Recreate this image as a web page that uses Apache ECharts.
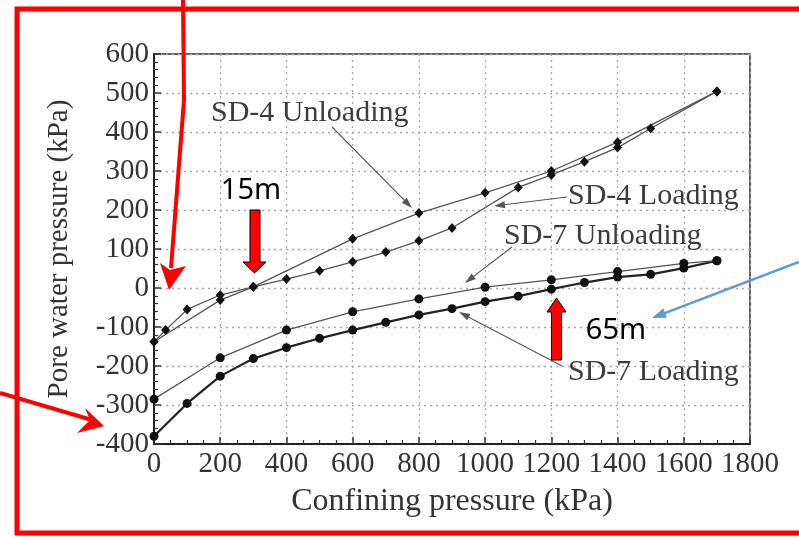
<!DOCTYPE html>
<html>
<head>
<meta charset="utf-8">
<script src="https://cdn.jsdelivr.net/npm/echarts@6/dist/echarts.min.js"></script>
<style>
html,body{margin:0;padding:0;background:#fff;}
#chart{width:799px;height:539px;}
</style>
</head>
<body>
<div id="chart"></div>
<script>
// ---- data ----
const xTicks = [0, 200, 400, 600, 800, 1000, 1200, 1400, 1600, 1800];
const yTicks = [-400, -300, -200, -100, 0, 100, 200, 300, 400, 500, 600];

const sd4LoadX   = [0, 35, 100, 200, 300, 400, 500, 600, 700, 800, 900, 1100, 1200, 1300, 1400, 1500, 1700];
const sd4LoadY   = [-138, -108, -55, -18, 3, 23, 44, 67, 92, 121, 154, 258, 290, 324, 360, 409, 504];
const sd4UnloadX = [1700, 1400, 1200, 1000, 800, 600, 300, 200, 0];
const sd4UnloadY = [504, 374, 300, 244, 192, 126, 3, -31, -138];

const sd7LoadX   = [0, 100, 200, 300, 400, 500, 600, 700, 800, 900, 1000, 1100, 1200, 1300, 1400, 1500, 1600, 1700];
const sd7LoadY   = [-380, -296, -226, -181, -153, -129, -108, -88, -69, -53, -35, -21, -3, 14, 28, 35, 51, 70];
const sd7UnloadX = [1700, 1600, 1400, 1200, 1000, 800, 600, 400, 200, 0];
const sd7UnloadY = [70, 63, 42, 21, 2, -28, -61, -108, -179, -285];

const zip = (xs, ys) => xs.map((x, i) => [x, ys[i]]);

// ---- helpers for annotation arrows ----
function arrow(x1, y1, x2, y2, color, width, headLen, headW, z) {
  const dx = x2 - x1, dy = y2 - y1, L = Math.hypot(dx, dy);
  const ux = dx / L, uy = dy / L, px = -uy, py = ux;
  const bx = x2 - ux * headLen, by = y2 - uy * headLen;
  return [
    {type: 'line', z: z, shape: {x1: x1, y1: y1, x2: bx + ux * 1, y2: by + uy * 1},
     style: {stroke: color, lineWidth: width}},
    {type: 'polygon', z: z, shape: {points: [[x2, y2], [bx + px * headW, by + py * headW], [bx - px * headW, by - py * headW]]},
     style: {fill: color}}
  ];
}

const serif = "Liberation Serif";
const serifFont = "'Liberation Serif', 'Times New Roman', serif";
const annColor = '#3c3c3c';
const annFont = 30;

const graphics = [];
// leader arrows
graphics.push(...arrow(332, 127, 412, 208, '#555', 1.1, 11, 3.5, 10));
graphics.push(...arrow(567, 197, 494, 206, '#555', 1.1, 11, 3.5, 10));
graphics.push(...arrow(512, 247, 465, 283, '#555', 1.1, 11, 3.5, 10));
graphics.push(...arrow(562, 366, 459, 312, '#555', 1.1, 11, 3.5, 10));
// annotation texts
[['SD-4 Unloading', 211, 113], ['SD-4 Loading', 568, 196], ['SD-7 Unloading', 504, 236], ['SD-7 Loading', 568, 372]]
  .forEach(t => graphics.push({type: 'text', z: 10, x: t[1], y: t[2],
    style: {text: t[0], font: annFont + 'px ' + serifFont, fill: annColor, textVerticalAlign: 'middle', textAlign: 'left'}}));

// red overlay frame
const red = '#ff0000';
graphics.push({type: 'polyline', z: 100, shape: {points: [[799, 9], [17, 9], [17, 533], [799, 533]]},
  style: {stroke: red, lineWidth: 5, fill: null}});
// red line arrow from top
graphics.push({type: 'polyline', z: 100, shape: {points: [[183, 0], [184, 100], [171, 268]]},
  style: {stroke: red, lineWidth: 4, fill: null}});
graphics.push({type: 'polygon', z: 100, shape: {points: [[169, 290], [160, 263], [170, 270], [186, 266]]},
  style: {fill: red}});
// red line arrow from left
graphics.push({type: 'line', z: 100, shape: {x1: 0, y1: 393, x2: 92, y2: 420}, style: {stroke: red, lineWidth: 4}});
graphics.push({type: 'polygon', z: 100, shape: {points: [[104, 426], [85, 408], [90, 420], [77, 433]]},
  style: {fill: red}});
// blue arrow
graphics.push(...arrow(799, 262, 652, 318, '#5b9bd5', 2.5, 14, 5, 100));
// block arrows
graphics.push({type: 'polygon', z: 100, shape: {points: [[250, 210], [260, 210], [260, 262], [266, 262], [254.5, 273], [243, 262], [250, 262]]},
  style: {fill: red, stroke: '#000', lineWidth: 1}});
graphics.push({type: 'polygon', z: 100, shape: {points: [[556.5, 298], [566, 312], [561.5, 312], [561.5, 360], [551.5, 360], [551.5, 312], [547, 312]]},
  style: {fill: red, stroke: '#000', lineWidth: 1}});
// 15m / 65m labels
graphics.push({type: 'text', z: 100, x: 251, y: 191, style: {text: '15m', font: "29px 'Noto Sans', sans-serif", fill: '#000', textAlign: 'center', textVerticalAlign: 'middle'}});
graphics.push({type: 'text', z: 100, x: 616, y: 331, style: {text: '65m', font: "29px 'Noto Sans', sans-serif", fill: '#000', textAlign: 'center', textVerticalAlign: 'middle'}});

const chart = echarts.init(document.getElementById('chart'), null, {renderer: 'canvas'});

const labelStyle = {
  fontFamily: serif, fontSize: 29, color: '#333',
  formatter: v => '{s|' + v + '}',
  rich: {s: {fontFamily: serif, fontSize: 29, color: '#333'}}
};
const axisCommon = {
  axisLine: {show: true, onZero: false, lineStyle: {color: '#222', width: 2}},
  axisTick: {show: true, inside: true, length: 7, lineStyle: {color: '#333', width: 1.5}},
  minorTick: {show: true, length: 4, lineStyle: {color: '#333', width: 1.2}},
  splitLine: {show: true, lineStyle: {color: '#a8a8a8', width: 1.3, type: [2, 4]}}
};

chart.setOption({
  animation: false,
  backgroundColor: '#fff',
  textStyle: {fontFamily: serif},
  grid: {left: 154, top: 54, right: 49, bottom: 95, show: true, borderColor: '#333', borderWidth: 1.5},
  xAxis: Object.assign({}, axisCommon, {
    type: 'value', min: xTicks[0], max: xTicks[xTicks.length - 1], interval: xTicks[1] - xTicks[0],
    name: 'Confining pressure (kPa)', nameLocation: 'middle', nameGap: 42,
    nameTextStyle: {fontFamily: serif, fontSize: 32, color: '#333'},
    minorTick: Object.assign({}, axisCommon.minorTick, {splitNumber: 4}),
    axisLabel: Object.assign({}, labelStyle, {margin: 6})
  }),
  yAxis: Object.assign({}, axisCommon, {
    type: 'value', min: yTicks[0], max: yTicks[yTicks.length - 1], interval: yTicks[1] - yTicks[0],
    name: 'Pore water pressure (kPa)', nameLocation: 'middle', nameGap: 80,
    nameTextStyle: {fontFamily: serif, fontSize: 29, color: '#333'},
    minorTick: Object.assign({}, axisCommon.minorTick, {splitNumber: 5}),
    axisLabel: Object.assign({}, labelStyle, {margin: 5})
  }),
  graphic: graphics,
  series: [
    {name: 'SD-4 Loading', type: 'line', data: zip(sd4LoadX, sd4LoadY), symbol: 'diamond', symbolSize: [9, 10],
     lineStyle: {color: '#555', width: 1.3}, itemStyle: {color: '#111'}, z: 3},
    {name: 'SD-4 Unloading', type: 'line', data: zip(sd4UnloadX, sd4UnloadY), symbol: 'diamond', symbolSize: [9, 10],
     lineStyle: {color: '#555', width: 1.3}, itemStyle: {color: '#111'}, z: 3},
    {name: 'SD-7 Loading', type: 'line', data: zip(sd7LoadX, sd7LoadY), symbol: 'circle', symbolSize: 9,
     lineStyle: {color: '#222', width: 2.2}, itemStyle: {color: '#111'}, z: 3},
    {name: 'SD-7 Unloading', type: 'line', data: zip(sd7UnloadX, sd7UnloadY), symbol: 'circle', symbolSize: 9,
     lineStyle: {color: '#555', width: 1.3}, itemStyle: {color: '#111'}, z: 3}
  ]
});
</script>
</body>
</html>
